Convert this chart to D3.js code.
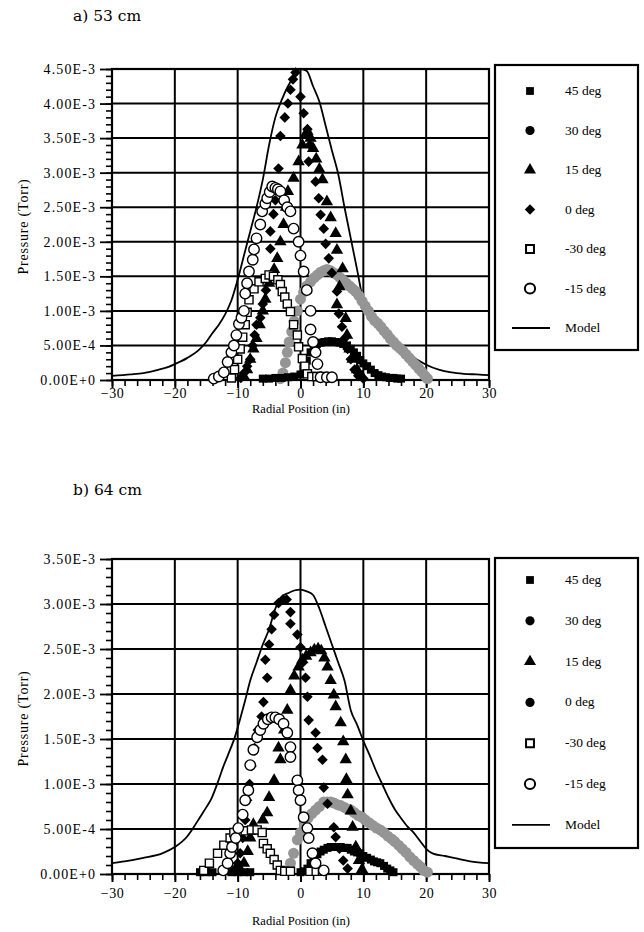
<!DOCTYPE html>
<html>
<head>
<meta charset="utf-8">
<script src="https://cdn.jsdelivr.net/npm/d3@7"></script>
<style>
  body { margin: 0; background: #fff; }
  text { font-family: "Liberation Serif", "Times New Roman", Times, serif; fill: #000; }
</style>
</head>
<body>
<div id="holder"></div>
<script>
// pressures are in units of 1E-3 Torr, positions in inches
var xTicks = [-30, -20, -10, 0, 10, 20, 30];
var yTicksA = [0, 0.5, 1, 1.5, 2, 2.5, 3, 3.5, 4, 4.5];
var yTicksB = [0, 0.5, 1, 1.5, 2, 2.5, 3, 3.5];
var legendA = ["45 deg", "30 deg", "15 deg", "0 deg", "-30 deg", "-15 deg", "Model"];
var legendB = ["45 deg", "30 deg", "15 deg", "0 deg", "-30 deg", "-15 deg", "Model"];

// ---- a) 53 cm ----
var modelA = [[-30,0.06],[-27,0.08],[-25,0.1],[-23,0.14],[-21,0.19],[-20,0.23],[-18,0.32],[-16,0.45],[-15,0.55],
  [-14,0.68],[-13,0.8],[-12,0.95],[-11,1.15],[-10,1.45],[-9,1.8],[-8,2.15],[-7,2.5],[-6,2.9],[-5,3.4],[-4,3.8],
  [-3,4.05],[-2,4.25],[-1,4.4],[0,4.5],[1,4.47],[2,4.25],[3,4.03],[4,3.68],[5,3.32],[6,2.98],[7,2.5],[8,2.05],
  [9,1.6],[10,1.15],[11,0.98],[12,0.87],[13,0.76],[14,0.65],[15,0.56],[16,0.47],[17,0.4],[18,0.33],[19,0.27],
  [20,0.22],[22,0.15],[24,0.11],[26,0.09],[28,0.08],[30,0.07]];
var deg45A = [[-6,0.02],[-5,0.02],[-4,0.03],[-3,0.03],[-2,0.04],[-1,0.05],[0,0.08],[0.5,0.15],[1,0.28],[1.6,0.4],
  [2.1,0.5],[2.6,0.52],[3.2,0.54],[3.8,0.55],[4.4,0.56],[5,0.56],[5.6,0.55],[6.2,0.54],[6.8,0.52],[7.4,0.5],[8,0.45],
  [8.5,0.4],[9,0.35],[9.5,0.29],[10,0.24],[10.6,0.2],[11.2,0.15],[11.8,0.1],[12.4,0.07],[13,0.05],[13.6,0.04],
  [14.2,0.03],[14.8,0.03],[15.4,0.02],[16,0.02]];
var deg30A = [[-3.2,0.02],[-2.8,0.1],[-2.4,0.25],[-2.1,0.4],[-1.8,0.55],[-1.4,0.7],[-1,0.85],[-0.5,1.0],[0,1.17],
  [0.5,1.27],[1,1.36],[1.6,1.42],[2.2,1.48],[2.7,1.52],[3.2,1.56],[3.7,1.58],[4.2,1.6],[4.8,1.58],[5.3,1.55],
  [5.8,1.52],[6.3,1.48],[6.8,1.44],[7.3,1.4],[7.8,1.36],[8.3,1.32],[8.8,1.28],[9.3,1.22],[9.8,1.14],[10.3,1.07],
  [10.8,1.0],[11.3,0.92],[11.8,0.86],[12.3,0.82],[12.8,0.77],[13.3,0.71],[13.8,0.66],[14.3,0.6],[14.8,0.55],
  [15.3,0.5],[15.8,0.46],[16.3,0.42],[16.8,0.37],[17.3,0.32],[17.8,0.27],[18.3,0.22],[18.8,0.17],[19.3,0.12],
  [19.8,0.06],[20.2,0.02]];
var deg15A = [[-9,0.05],[-8.5,0.15],[-8,0.3],[-7.5,0.45],[-7,0.6],[-6.5,0.8],[-6,1.0],[-5.6,1.17],[-5,1.4],[-4.2,1.6],
  [-3.7,1.76],[-3.2,2.0],[-2.7,2.25],[-2.3,2.5],[-2,2.73],[-1.1,2.92],[-0.3,3.16],[0.3,3.4],[0.8,3.55],[1.1,3.6],
  [1.6,3.5],[2,3.35],[2.5,3.2],[3,3.05],[3.5,2.9],[4.2,2.58],[4.8,2.35],[5.6,2.12],[5.8,1.88],[6.7,1.61],[6.2,1.35],
  [5.8,1.09],[7.2,0.89],[7.4,0.65],[7.8,0.45],[8.3,0.3],[9,0.15],[9.8,0.05]];
var deg0A = [[-9.5,0.03],[-9,0.1],[-8.5,0.2],[-8,0.3],[-7.6,0.5],[-7.3,0.65],[-7,0.8],[-6.4,0.9],[-6,1.1],[-5.5,1.3],
  [-5.2,1.5],[-4.8,1.9],[-4.8,2.15],[-4.3,2.4],[-4,2.6],[-3.5,3.06],[-3.2,3.53],[-2.5,3.8],[-2,4.0],[-1.6,4.2],
  [-1.2,4.35],[-0.8,4.45],[0,4.1],[0.5,3.86],[1.1,3.63],[1.5,3.4],[1.3,3.16],[2.4,2.87],[2.9,2.63],[3.2,2.39],
  [3.7,2.19],[4,1.97],[4.5,1.76],[5,1.55],[5.8,1.28],[6.1,0.96],[6.6,0.77],[7,0.6],[7.5,0.45],[8,0.3],[8.6,0.15],
  [9.2,0.06],[10,0.02]];
var degM30A = [[-11,0.03],[-10.5,0.15],[-10,0.3],[-9.6,0.45],[-9.2,0.62],[-8.8,0.8],[-8.5,0.98],[-8.2,1.16],[-7.4,1.32],
  [-6.6,1.42],[-5.6,1.47],[-5,1.52],[-4.3,1.5],[-3.6,1.45],[-3.2,1.38],[-2.9,1.28],[-2.5,1.2],[-2.1,1.1],[-1.6,0.99],
  [-1.1,0.8],[-0.5,0.65],[-0.3,0.48],[0.3,0.31],[0.7,0.2],[1.1,0.09],[1.8,0.05],[2.6,0.05],[3.4,0.05]];
var degM15A = [[-13.8,0.02],[-13,0.05],[-12.2,0.11],[-11.6,0.26],[-11,0.4],[-10.6,0.5],[-10.2,0.65],[-9.8,0.81],
  [-9.4,0.9],[-9,1.0],[-8.8,1.25],[-8.5,1.4],[-8.2,1.57],[-7.6,1.74],[-7.4,1.89],[-7,2.05],[-6.4,2.25],[-6.1,2.44],
  [-5.6,2.55],[-5.3,2.63],[-4.9,2.72],[-4.5,2.8],[-4,2.78],[-3.6,2.76],[-3.2,2.73],[-2.6,2.6],[-2.1,2.5],[-1.6,2.44],
  [-1.1,2.19],[-0.3,2.0],[0,1.8],[0.5,1.57],[1,1.3],[1.6,1.0],[1.6,0.73],[2,0.55],[2.4,0.4],[2.7,0.23],[3.2,0.04],
  [4.2,0.04],[5,0.04]];

// ---- b) 64 cm ----
var modelB = [[-30,0.12],[-28,0.14],[-25,0.18],[-22,0.23],[-20,0.3],[-18,0.42],[-17,0.52],[-16,0.63],[-15,0.74],
  [-14.3,0.82],[-13,1.05],[-12.3,1.19],[-11.5,1.33],[-10.6,1.49],[-9.5,1.75],[-8.8,1.93],[-8,2.15],[-7,2.35],
  [-6,2.55],[-5,2.72],[-4,2.95],[-3,3.08],[-2,3.12],[-1,3.15],[0,3.16],[1,3.14],[2,3.1],[3,2.95],[4,2.75],[5,2.55],
  [6,2.35],[7,2.15],[8,1.82],[9,1.66],[10,1.48],[11,1.32],[12,1.15],[13,1.0],[14,0.85],[15,0.72],[16,0.62],[17,0.53],
  [18,0.46],[19,0.37],[20,0.28],[21,0.23],[23,0.2],[25,0.17],[27,0.14],[30,0.12]];
var deg45B = [[-16,0.02],[-15,0.02],[-14,0.02],[-11,0.02],[-10,0.02],[-9,0.02],[-8,0.02],[0,0.02],[0.6,0.03],
  [1.1,0.06],[1.6,0.12],[2.1,0.16],[2.7,0.22],[3.2,0.25],[3.7,0.27],[4.3,0.29],[4.8,0.3],[5.3,0.3],[5.9,0.3],
  [6.4,0.3],[7,0.29],[7.5,0.29],[8,0.27],[8.5,0.25],[9,0.24],[9.5,0.23],[10,0.2],[10.6,0.18],[11.2,0.16],[11.7,0.14],
  [12.2,0.13],[12.7,0.12],[13.3,0.09],[13.8,0.06],[14.3,0.04],[14.8,0.02]];
var deg30B = [[-2,0.04],[-1.6,0.12],[-1.1,0.23],[-0.5,0.38],[0,0.46],[0.6,0.55],[1.2,0.62],[1.8,0.67],[2.4,0.71],
  [3,0.75],[3.7,0.8],[4.3,0.8],[4.8,0.8],[5.3,0.79],[5.9,0.77],[6.4,0.76],[7,0.74],[7.5,0.72],[8,0.71],[8.6,0.68],
  [9.2,0.65],[9.8,0.63],[10.3,0.6],[10.9,0.57],[11.5,0.54],[12.1,0.51],[12.7,0.49],[13.3,0.46],[13.9,0.42],
  [14.5,0.39],[15,0.36],[15.6,0.32],[16.2,0.28],[16.8,0.24],[17.4,0.19],[18,0.15],[18.6,0.11],[19.1,0.08],
  [19.6,0.04],[20.2,0.02]];
var deg15B = [[-9.5,0.04],[-9,0.12],[-8.4,0.25],[-8,0.4],[-7.5,0.55],[-6,0.6],[-5.3,0.68],[-5,0.85],[-4.2,1.04],
  [-3.5,1.4],[-3.2,1.27],[-2.6,1.6],[-2.1,1.82],[-1.6,2.04],[-1,2.2],[-0.3,2.3],[0.3,2.38],[0.9,2.42],[1.6,2.46],
  [2.2,2.49],[2.8,2.5],[3.3,2.48],[3.8,2.4],[4.3,2.3],[4.8,2.15],[5.3,1.99],[5.6,1.86],[6.4,1.68],[6.8,1.47],
  [7.2,1.27],[7.3,1.05],[7.5,0.88],[8,0.7],[8.3,0.52],[8.8,0.3],[9.3,0.15],[9.8,0.05]];
var deg0B = [[-10.5,0.05],[-10,0.12],[-9.6,0.23],[-9.2,0.4],[-8.8,0.6],[-8.5,0.82],[-8.1,1.0],[-7.8,1.2],[-7.3,1.4],
  [-6.8,1.6],[-6.2,1.75],[-5.9,1.91],[-5.3,2.18],[-5.6,2.38],[-5,2.55],[-4.6,2.72],[-4.2,2.88],[-3.5,3.01],
  [-2.8,3.05],[-2.2,3.05],[-1.6,2.91],[-1.6,2.78],[-0.5,2.66],[0,2.52],[0.2,2.34],[0.8,2.18],[1.1,1.97],[1.3,1.71],
  [2.4,1.57],[2.7,1.4],[3.5,1.27],[3.7,0.96],[4.3,0.78],[5.3,0.52],[5.6,0.41],[6.2,0.28],[6.8,0.15],[7.5,0.06]];
var degM30B = [[-15.4,0.04],[-14.5,0.12],[-13.2,0.23],[-12.2,0.32],[-11.2,0.4],[-10.6,0.46],[-9.8,0.47],[-8.8,0.48],
  [-7.8,0.49],[-6.9,0.49],[-6.1,0.46],[-5.9,0.34],[-5.3,0.28],[-4.8,0.23],[-4.2,0.16],[-3.7,0.1],[-3.2,0.04],
  [-2.5,0.03],[-1.6,0.03],[1.5,0.03],[2.5,0.03],[3.5,0.03]];
var degM15B = [[-12.3,0.04],[-11.6,0.12],[-11.2,0.23],[-10.9,0.3],[-10.3,0.4],[-9.9,0.51],[-9.2,0.66],[-8.8,0.82],
  [-8.3,0.93],[-8,1.21],[-7.5,1.38],[-6.9,1.52],[-6.4,1.6],[-5.9,1.67],[-5.2,1.72],[-4.6,1.74],[-4,1.74],[-3.4,1.72],
  [-2.7,1.67],[-2.1,1.57],[-1.6,1.41],[-1.6,1.3],[-0.5,1.04],[-0.3,0.93],[0,0.82],[0.5,0.63],[1.1,0.51],[1.3,0.4],
  [1.9,0.23],[2.4,0.12],[3.7,0.04]];

var W = 644, H = 932;
var svg = d3.select("#holder").append("svg")
  .attr("width", W)
  .attr("height", H);

var fmt = function(d) { return d3.format(".2e")(d * 1e-3).toUpperCase(); };
var serif = "Liberation Serif, Times New Roman, Times, serif";

// marker styles
var sym = {
  sq:    { type: d3.symbolSquare,   size: 64, fill: "#000",  stroke: "none", rot: 0 },
  grey:  { type: d3.symbolCircle,   size: 95, fill: "#959595", stroke: "none", rot: 0 },
  dot:   { type: d3.symbolCircle,   size: 70, fill: "#000",  stroke: "none", rot: 0 },
  tri:   { type: d3.symbolTriangle, size: 66, fill: "#000",  stroke: "none", rot: 0 },
  dia:   { type: d3.symbolSquare,   size: 56, fill: "#000",  stroke: "none", rot: 45 },
  osq:   { type: d3.symbolSquare,   size: 66, fill: "#fff",  stroke: "#000", rot: 0 },
  ocirc: { type: d3.symbolCircle,   size: 86, fill: "#fff",  stroke: "#000", rot: 0 }
};

function drawChart(cfg) {
  var x = d3.scaleLinear().domain([-30, 30]).range([112, 489]);
  var y = d3.scaleLinear().domain([0, cfg.yMax]).range([cfg.bottom, cfg.top]);
  var g = svg.append("g");

  // title
  g.append("text")
    .attr("x", 73).attr("y", cfg.titleY)
    .style("font-family", "DejaVu Serif, serif")
    .style("font-size", "15.5px")
    .text(cfg.title);

  // grid
  g.selectAll(".vg").data(xTicks).enter().append("line")
    .attr("x1", function(d) { return x(d); }).attr("x2", function(d) { return x(d); })
    .attr("y1", cfg.top).attr("y2", cfg.bottom)
    .attr("stroke", "#000").attr("stroke-width", 2);
  g.selectAll(".hg").data(cfg.yTicks).enter().append("line")
    .attr("x1", x(-30)).attr("x2", x(30))
    .attr("y1", function(d) { return y(d); }).attr("y2", function(d) { return y(d); })
    .attr("stroke", "#000").attr("stroke-width", 2);

  // axes: majors + minors
  var yMinor = d3.range(0, cfg.yMax + 1e-6, 0.1);
  var xMinor = d3.range(-30, 30.01, 2);
  g.append("g").attr("transform", "translate(" + x(-30) + ",0)")
    .call(d3.axisLeft(y).tickValues(yMinor).tickSize(6).tickFormat(""))
    .call(function(a) { a.select(".domain").remove(); a.selectAll("line").attr("stroke-width", 1.6); });
  g.append("g").attr("transform", "translate(" + x(-30) + ",0)")
    .call(d3.axisLeft(y).tickValues(cfg.yTicks).tickSize(12).tickPadding(4).tickFormat(fmt))
    .call(function(a) {
      a.select(".domain").remove();
      a.selectAll("line").attr("stroke-width", 1.8);
      a.selectAll("text").style("font-size", "14px").style("letter-spacing", "1.1px")
        .style("font-family", serif);
    });
  g.append("g").attr("transform", "translate(0," + cfg.bottom + ")")
    .call(d3.axisBottom(x).tickValues(xMinor).tickSize(6).tickFormat(""))
    .call(function(a) { a.select(".domain").remove(); a.selectAll("line").attr("stroke-width", 1.6); });
  g.append("g").attr("transform", "translate(0," + cfg.bottom + ")")
    .call(d3.axisBottom(x).tickValues(xTicks).tickSize(8).tickPadding(cfg.xPad))
    .call(function(a) {
      a.select(".domain").remove();
      a.selectAll("line").attr("stroke-width", 2);
      a.selectAll("text").style("font-size", "14px").style("letter-spacing", "0.5px")
        .style("font-family", serif);
    });

  // frame
  g.append("rect")
    .attr("x", x(-30)).attr("y", cfg.top)
    .attr("width", x(30) - x(-30)).attr("height", cfg.bottom - cfg.top)
    .attr("fill", "none").attr("stroke", "#000").attr("stroke-width", 2.2);

  // axis titles
  g.append("text")
    .attr("x", 301).attr("y", cfg.xTitleY)
    .attr("text-anchor", "middle")
    .style("font-family", serif)
    .style("font-size", "12.5px")
    .text("Radial Position (in)");
  g.append("text")
    .attr("transform", "translate(28," + ((cfg.top + cfg.bottom) / 2 + 2) + ") rotate(-90)")
    .attr("text-anchor", "middle")
    .style("font-family", serif)
    .style("font-size", "14px")
    .style("letter-spacing", "0.8px")
    .text("Pressure (Torr)");

  // model line
  var line = d3.line()
    .x(function(d) { return x(d[0]); })
    .y(function(d) { return y(d[1]); })
    .curve(d3.curveMonotoneX);
  g.append("path")
    .datum(cfg.model)
    .attr("d", line)
    .attr("fill", "none")
    .attr("stroke", "#000")
    .attr("stroke-width", 1.8);

  // data markers
  cfg.series.forEach(function(s) {
    var st = sym[s.style];
    g.append("g").selectAll("path").data(s.data).enter().append("path")
      .attr("d", d3.symbol().type(st.type).size(st.size))
      .attr("transform", function(d) {
        return "translate(" + x(d[0]) + "," + y(d[1]) + ") rotate(" + st.rot + ")";
      })
      .attr("fill", st.fill)
      .attr("stroke", st.stroke)
      .attr("stroke-width", 1.4);
  });

  // legend
  var lg = g.append("g");
  lg.append("rect")
    .attr("x", 495).attr("y", cfg.legTop)
    .attr("width", 143).attr("height", cfg.legH)
    .attr("fill", "#fff").attr("stroke", "#000").attr("stroke-width", 2.2);
  cfg.legend.forEach(function(lab, i) {
    var ly = cfg.legFirst + i * cfg.legStep;
    var style = cfg.legStyles[i];
    if (style === "line") {
      lg.append("line").attr("x1", 512).attr("x2", 550).attr("y1", ly).attr("y2", ly)
        .attr("stroke", "#000").attr("stroke-width", 1.8);
    } else {
      var st = sym[style];
      lg.append("path")
        .attr("d", d3.symbol().type(st.type).size(st.size * 0.95))
        .attr("transform", "translate(530," + ly + ") rotate(" + st.rot + ")")
        .attr("fill", st.fill)
        .attr("stroke", st.stroke).attr("stroke-width", 2);
    }
    lg.append("text")
      .attr("x", 565).attr("y", ly + 4)
      .style("font-family", serif)
      .style("font-size", "13.5px")
      .text(lab);
  });
}

drawChart({
  title: "a) 53 cm", titleY: 21,
  top: 69, bottom: 380, yMax: 4.5, yTicks: yTicksA,
  xPad: 0, xTitleY: 413,
  model: modelA,
  series: [
    { style: "grey", data: deg30A },
    { style: "dia", data: deg0A },
    { style: "tri", data: deg15A },
    { style: "sq", data: deg45A },
    { style: "osq", data: degM30A },
    { style: "ocirc", data: degM15A }
  ],
  legend: legendA, legStyles: ["sq", "dot", "tri", "dia", "osq", "ocirc", "line"],
  legTop: 65, legH: 285, legFirst: 91, legStep: 39.5
});

drawChart({
  title: "b) 64 cm", titleY: 495,
  top: 559, bottom: 874, yMax: 3.5, yTicks: yTicksB,
  xPad: 6, xTitleY: 925,
  model: modelB,
  series: [
    { style: "grey", data: deg30B },
    { style: "dia", data: deg0B },
    { style: "tri", data: deg15B },
    { style: "sq", data: deg45B },
    { style: "osq", data: degM30B },
    { style: "ocirc", data: degM15B }
  ],
  legend: legendB, legStyles: ["sq", "dot", "tri", "dot", "osq", "ocirc", "line"],
  legTop: 558, legH: 290, legFirst: 580, legStep: 40.8
});
</script>
</body>
</html>
